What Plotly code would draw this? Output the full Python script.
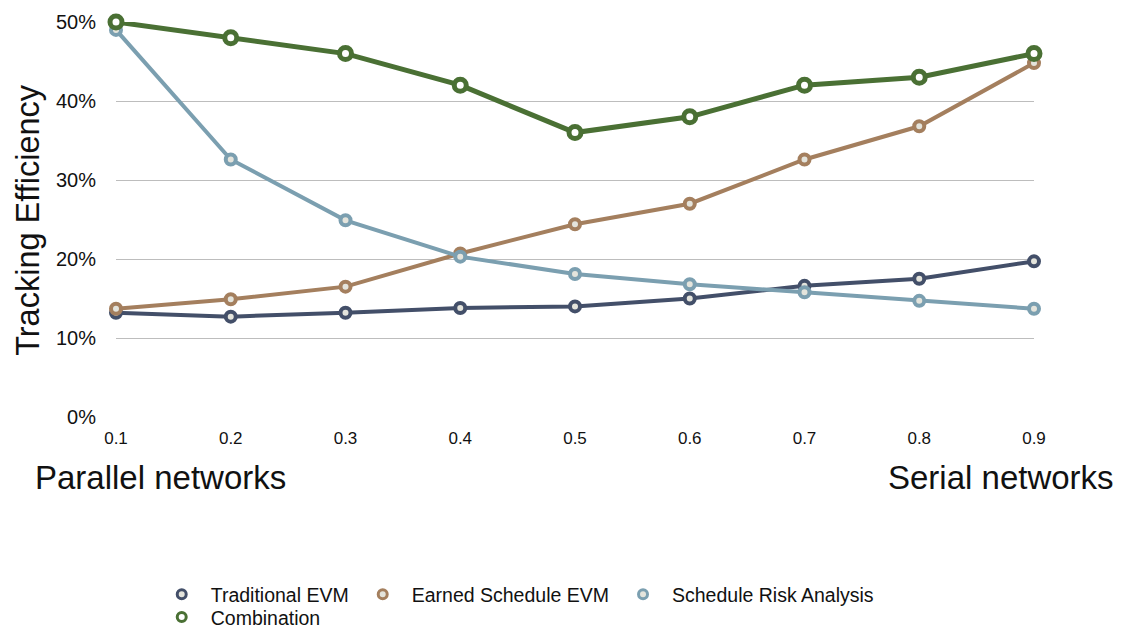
import plotly.graph_objects as go

x_vals = [0.1, 0.2, 0.3, 0.4, 0.5, 0.6, 0.7, 0.8, 0.9]
x_labels = ["0.1", "0.2", "0.3", "0.4", "0.5", "0.6", "0.7", "0.8", "0.9"]

traditional_evm = [13.2, 12.7, 13.2, 13.8, 14.0, 15.0, 16.6, 17.5, 19.7]
earned_schedule_evm = [13.7, 14.9, 16.5, 20.7, 24.4, 27.0, 32.6, 36.8, 44.8]
schedule_risk_analysis = [49.0, 32.6, 24.9, 20.3, 18.1, 16.8, 15.8, 14.7, 13.7]
combination = [50.0, 48.0, 46.0, 42.0, 36.0, 38.0, 42.0, 43.0, 46.0]

y_ticks = [0, 10, 20, 30, 40, 50]
y_labels = ["0%", "10%", "20%", "30%", "40%", "50%"]

FONT = "Liberation Sans, Arial, Helvetica, sans-serif"
TXT = "#111111"

series = [
    ("Traditional EVM", traditional_evm, "#434f69", "#e4e4dc", 4, 10, 4, "legend"),
    ("Earned Schedule EVM", earned_schedule_evm, "#a47f5e", "#e4e4dc", 4, 10, 4, "legend"),
    ("Schedule Risk Analysis", schedule_risk_analysis, "#7b9fb0", "#e4e4dc", 4, 10, 4, "legend"),
    ("Combination", combination, "#4a7034", "#ffffff", 5, 12, 5, "legend2"),
]

fig = go.Figure()
for name, vals, color, fill, lw, msize, mlw, leg in series:
    fig.add_trace(go.Scatter(
        x=x_vals, y=vals, mode="lines+markers", name=name,
        line=dict(color=color, width=lw),
        marker=dict(size=msize, color=fill, line=dict(color=color, width=mlw)),
        showlegend=False, legendgroup=name, cliponaxis=False,
    ))
for name, vals, color, fill, lw, msize, mlw, leg in series:
    fig.add_trace(go.Scatter(
        x=[None], y=[None], mode="markers", name=name,
        marker=dict(size=9, color=fill, line=dict(color=color, width=3)),
        showlegend=True, legendgroup=name, legend=leg,
    ))

fig.update_layout(
    width=1115, height=620,
    margin=dict(l=108, r=89, t=14, b=211, autoexpand=False),
    paper_bgcolor="white", plot_bgcolor="white",
    font=dict(family=FONT, color=TXT),
    xaxis=dict(
        range=[0.1, 0.9], tickvals=x_vals, ticktext=x_labels,
        showgrid=False, zeroline=False, showline=False, automargin=False,
        ticks="", tickfont=dict(size=17, family=FONT, color=TXT),
        ticklabelstandoff=9,
    ),
    yaxis=dict(
        range=[0, 50], tickvals=y_ticks, ticktext=y_labels,
        showgrid=True, gridcolor="#bdbdbd", gridwidth=1, automargin=False,
        zeroline=False, showline=False, ticks="",
        tickfont=dict(size=20, family=FONT, color=TXT),
        ticklabelstandoff=19,
    ),
    legend=dict(
        orientation="h", x=0.040, y=-0.40, xanchor="left", yanchor="top",
        font=dict(size=19.5, family=FONT, color=TXT), bgcolor="rgba(0,0,0,0)",
        itemwidth=48, itemclick=False, tracegroupgap=0,
    ),
    legend2=dict(
        orientation="h", x=0.040, y=-0.458, xanchor="left", yanchor="top",
        font=dict(size=19.5, family=FONT, color=TXT), bgcolor="rgba(0,0,0,0)",
        itemwidth=48, itemclick=False,
    ),
    annotations=[
        dict(text="Tracking Efficiency", xref="paper", yref="paper",
             x=-0.0959, y=0.499, xanchor="center", yanchor="middle",
             textangle=-90, showarrow=False,
             font=dict(size=32.5, family=FONT, color=TXT)),
        dict(text="Parallel networks", xref="paper", yref="paper",
             x=-0.0904, y=-0.154, xanchor="left", yanchor="middle",
             showarrow=False, font=dict(size=33, family=FONT, color=TXT)),
        dict(text="Serial networks", xref="paper", yref="paper",
             x=1.0893, y=-0.154, xanchor="right", yanchor="middle",
             showarrow=False, font=dict(size=33, family=FONT, color=TXT)),
    ],
)

fig.write_html("out.html")
